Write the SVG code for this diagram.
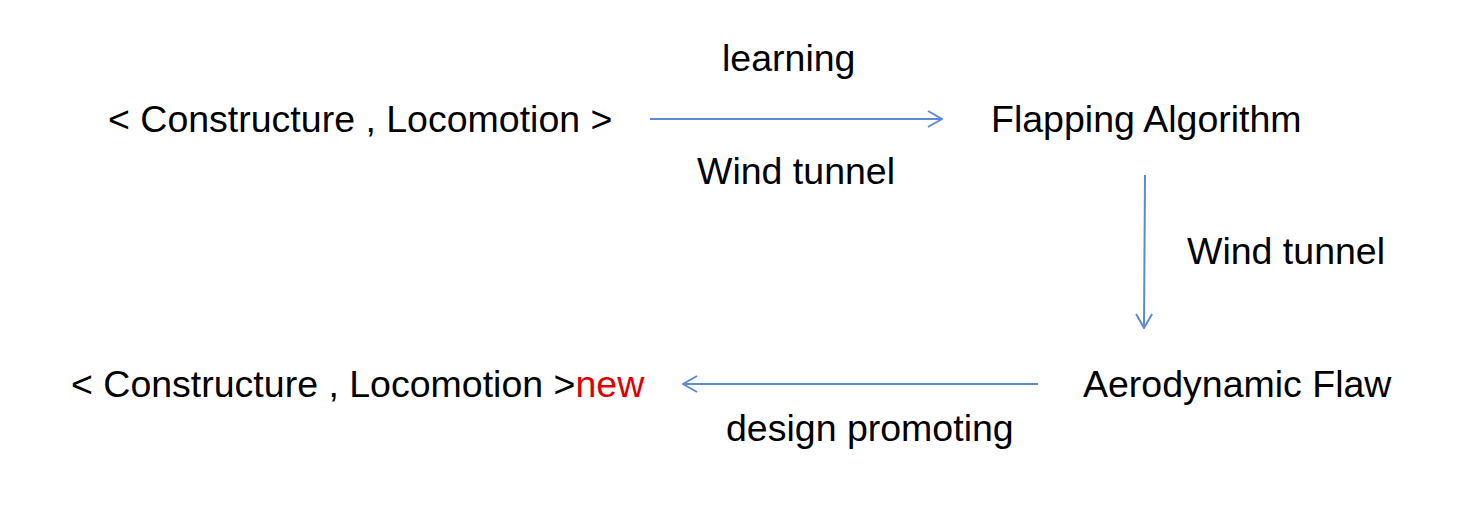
<svg xmlns="http://www.w3.org/2000/svg" width="1462" height="517" viewBox="0 0 1462 517">
<style>
text{font-family:"Liberation Sans",Arial,sans-serif;font-size:37.5px;fill:#000}
.red{fill:#e00000}
.c{stroke:#5b8bd6;stroke-width:2;fill:none}
</style>
<defs>
<marker id="ah" viewBox="0 0 16 18" refX="15" refY="9" markerWidth="16" markerHeight="18" markerUnits="userSpaceOnUse" orient="auto">
<path d="M1 1 L15 9 L1 17" fill="none" stroke="#5b8bd6" stroke-width="2"/>
</marker>
</defs>
<rect width="1462" height="517" fill="#fff"/>
<g id="n1"><text x="108" y="132">&lt; Constructure , Locomotion &gt;</text></g>
<g id="n2"><text x="991" y="132">Flapping Algorithm</text></g>
<g id="n3"><text x="1083" y="397">Aerodynamic Flaw</text></g>
<g id="n4"><text x="71" y="397">&lt; Constructure , Locomotion &gt;<tspan class="red">new</tspan></text></g>
<g id="connectors">
<line class="c" x1="650" y1="119" x2="942" y2="119" marker-end="url(#ah)"/>
<line class="c" x1="1145" y1="175" x2="1144" y2="328" marker-end="url(#ah)"/>
<line class="c" x1="1038" y1="384" x2="683" y2="384" marker-end="url(#ah)"/>
<text x="722" y="71">learning</text>
<text x="697" y="184">Wind tunnel</text>
<text x="1187" y="264">Wind tunnel</text>
<text x="726" y="441">design promoting</text>
</g>
</svg>
